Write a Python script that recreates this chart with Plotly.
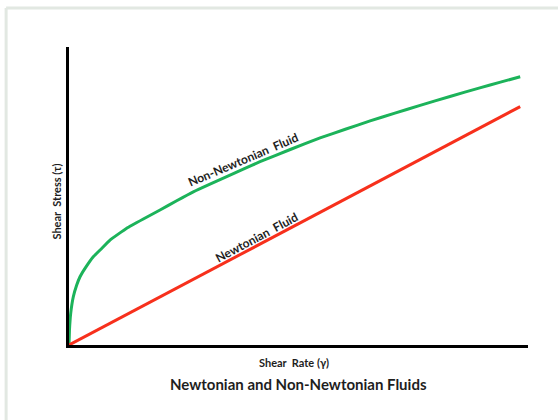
import plotly.graph_objects as go

# Shear rate / shear stress samples for each fluid model
shear_rate_newtonian = [0.0, 9.83]
shear_stress_newtonian = [0.0, 8.0]

shear_rate_non_newtonian = [0.0, 0.01, 0.037, 0.094, 0.168, 0.240, 0.349, 0.529, 0.712,
                            0.893, 1.257, 1.619, 1.983, 2.346, 2.708, 3.072, 3.436, 3.797,
                            4.161, 4.82, 5.47, 6.02, 6.56, 7.10, 7.65, 8.30, 8.95, 9.40, 9.83]
shear_stress_non_newtonian = [0.0, 0.50, 1.06, 1.62, 2.01, 2.29, 2.57, 2.96, 3.24,
                              3.52, 3.92, 4.23, 4.53, 4.84, 5.14, 5.40, 5.65, 5.90,
                              6.15, 6.56, 6.95, 7.24, 7.52, 7.78, 8.04, 8.34, 8.63, 8.82, 9.0]

title_text = "Newtonian and Non-Newtonian Fluids"
x_label = "Shear  Rate (γ)"
y_label = "Shear  Stress (τ)"
label_newtonian = "Newtonian  Fluid"
label_non_newtonian = "Non-Newtonian  Fluid"

GREEN = "#1cb35a"
RED = "#f7301c"
TEXT = "#1e1e1e"
FONT = "Lato"

fig = go.Figure()
fig.add_trace(go.Scatter(
    x=shear_rate_non_newtonian, y=shear_stress_non_newtonian,
    mode="lines", line=dict(color=GREEN, width=3, shape="spline", smoothing=0.3),
    hoverinfo="skip", showlegend=False,
))
fig.add_trace(go.Scatter(
    x=shear_rate_newtonian, y=shear_stress_newtonian,
    mode="lines", line=dict(color=RED, width=3),
    hoverinfo="skip", showlegend=False,
))

annotations = [
    dict(text=f"<b>{label_non_newtonian}</b>", x=3.80, y=6.22, xref="x", yref="y",
         showarrow=False, textangle=-23, font=dict(family=FONT, size=12, color=TEXT)),
    dict(text=f"<b>{label_newtonian}</b>", x=4.08, y=3.62, xref="x", yref="y",
         showarrow=False, textangle=-28, font=dict(family=FONT, size=12, color=TEXT)),
    dict(text=f"<b>{y_label}</b>", x=-0.027, y=0.48, xref="paper", yref="paper",
         xanchor="center", yanchor="middle", showarrow=False, textangle=-90,
         font=dict(family=FONT, size=11, color=TEXT)),
    dict(text=f"<b>{x_label}</b>", x=0.49, y=-0.058, xref="paper", yref="paper",
         xanchor="center", yanchor="middle", showarrow=False,
         font=dict(family=FONT, size=11, color=TEXT)),
    dict(text=f"<b>{title_text}</b>", x=0.50, y=-0.131, xref="paper", yref="paper",
         xanchor="center", yanchor="middle", showarrow=False,
         font=dict(family=FONT, size=15, color=TEXT)),
]

# Light frame around the figure (top and left edges visible)
shapes = [
    dict(type="line", xref="paper", yref="paper", x0=-0.137, x1=1.2, y0=1.131, y1=1.131,
         line=dict(color="#e2e8e2", width=3)),
    dict(type="line", xref="paper", yref="paper", x0=-0.137, x1=-0.137, y0=1.131, y1=-0.3,
         line=dict(color="#e2e8e2", width=3)),
]

fig.update_layout(
    width=558, height=420,
    margin=dict(l=69, r=30, t=47, b=75),
    paper_bgcolor="white", plot_bgcolor="white",
    annotations=annotations, shapes=shapes,
    xaxis=dict(range=[0, 10], showgrid=False, zeroline=False, showticklabels=False,
               ticks="", showline=True, linecolor="black", linewidth=3),
    yaxis=dict(range=[0, 10], showgrid=False, zeroline=False, showticklabels=False,
               ticks="", showline=True, linecolor="black", linewidth=3),
)

fig.write_html("out.html", config={"displayModeBar": False})
